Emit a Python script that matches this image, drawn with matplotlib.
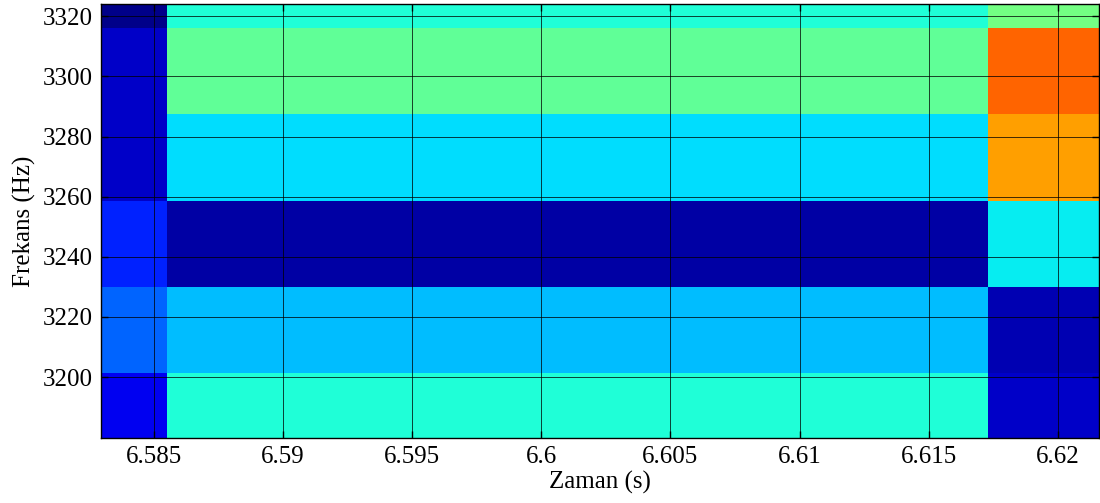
import numpy as np
import matplotlib.pyplot as plt

# Zaman ekseni hücre sınırları (s) ve frekans kutusu sınırları (Hz)
zaman_sinir = [6.58296, 6.58549, 6.61729, 6.62159]
frekans_sinir = [3172.6, 3201.3, 3230.0, 3258.7, 3287.4, 3316.1, 3344.8]

# Normalize güç değerleri: satırlar alttan üste frekans, sütunlar zaman
guc_t1 = [0.099, 0.225, 0.158, 0.066, 0.066, 0.011]
guc_t2 = [0.390, 0.312, 0.033, 0.343, 0.468, 0.390]
guc_t3 = [0.066, 0.044, 0.357, 0.740, 0.802, 0.490]

x_ticks = [6.585, 6.59, 6.595, 6.6, 6.605, 6.61, 6.615, 6.62]
y_ticks = [3200, 3220, 3240, 3260, 3280, 3300, 3320]

plt.rcParams['font.family'] = ['Liberation Serif', 'DejaVu Serif']

fig = plt.figure(figsize=(11, 5.03), dpi=100)
ax = fig.add_axes([0.0921, 0.1298, 0.9069, 0.8622])

C = np.column_stack([guc_t1, guc_t2, guc_t3])
ax.pcolormesh(zaman_sinir, frekans_sinir, C, cmap='jet', vmin=0, vmax=1,
              shading='flat')

ax.set_xlim(6.58296, 6.62159)
ax.set_ylim(3179.8, 3324.1)
ax.set_xticks(x_ticks)
ax.set_xticklabels(['%g' % t for t in x_ticks])
ax.set_yticks(y_ticks)
ax.grid(True, color='black', linewidth=0.7, alpha=0.75)
ax.set_axisbelow(False)
ax.tick_params(direction='in', length=5, width=1, labelsize=18,
               top=True, right=True, pad=6)
for s in ax.spines.values():
    s.set_linewidth(1.0)

ax.set_xlabel('Zaman (s)', fontsize=18, labelpad=2)
ax.set_ylabel('Frekans (Hz)', fontsize=18, labelpad=5)

fig.savefig('out.png', dpi=100)
